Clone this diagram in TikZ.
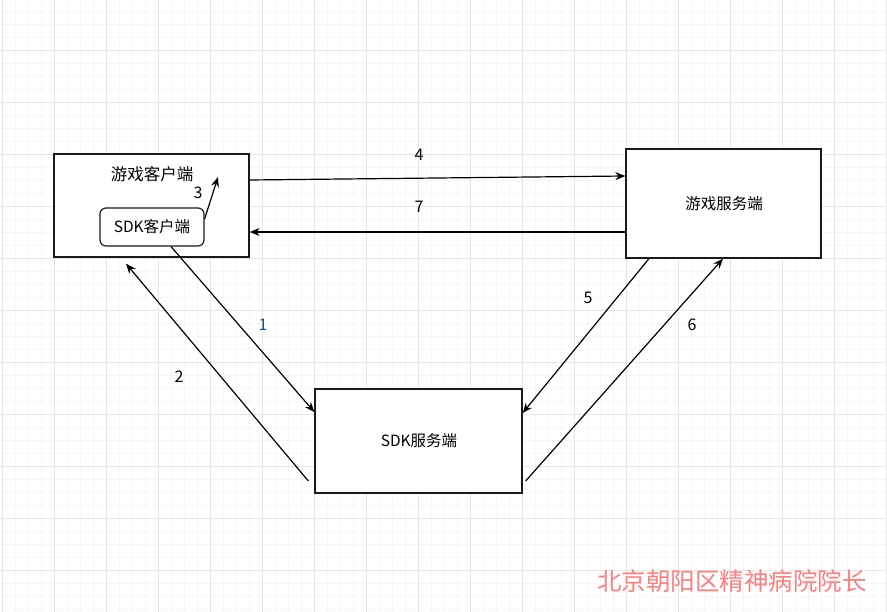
\documentclass[tikz,border=0pt]{standalone}
\usepackage{xcolor}
\usepackage{fontspec}
\setmainfont{Noto Sans CJK SC}
\usepackage{tikz}
\usetikzlibrary{arrows.meta, positioning}
\definecolor{GridMajor}{HTML}{E6E6E6}
\definecolor{GridMinor}{HTML}{F6F6F6}
\definecolor{BoxLine}{HTML}{1A1A1A}
\definecolor{StepBlue}{HTML}{1F4E99}
\definecolor{MarkRed}{HTML}{FF7F7F}

\begin{document}
\begin{tikzpicture}[x=1pt, y=-1pt,
  box/.style={rectangle, draw=BoxLine, line width=1.3pt, fill=white,
    inner sep=0pt},
  inner/.style={rectangle, rounded corners=6pt, draw=BoxLine, line width=1.2pt,
    fill=white, inner sep=0pt, minimum width=104pt, minimum height=38pt,
    font=\fontsize{15.5}{18}\selectfont},
  txt/.style={font=\fontsize{15.5}{18}\selectfont, inner sep=0pt},
  num/.style={font=\fontsize{16}{19}\selectfont, inner sep=0pt},
  line/.style={-{Stealth[length=10pt,width=8pt]}, line width=1.2pt, color=black}
]
\useasboundingbox (0,0) rectangle (887,612);
\fill[white] (0,0) rectangle (887,612);
% grid
\foreach \gx in {0,...,68} \draw[GridMinor, line width=0.8pt] (2.5+13*\gx,0) -- (2.5+13*\gx,612);
\foreach \gy in {0,...,47} \draw[GridMinor, line width=0.8pt] (0,-2+13*\gy) -- (887,-2+13*\gy);
\foreach \gx in {0,...,17} \draw[GridMajor, line width=0.8pt] (2.5+52*\gx,0) -- (2.5+52*\gx,612);
\foreach \gy in {0,...,11} \draw[GridMajor, line width=0.8pt] (0,-2+52*\gy) -- (887,-2+52*\gy);

% boxes
\node[box, minimum width=195pt, minimum height=103pt] (client) at (151.5,205.5) {};
\node[txt, font=\fontsize{16.5}{19}\selectfont] (clienttxt) at (152,174) {游戏客户端};
\node[inner] (sdkc) at (152,227) {SDK客户端};
\node[box, minimum width=195pt, minimum height=109pt] (server) at (723.5,203.5) {};
\node[txt] (servertxt) at (724,204) {游戏服务端};
\node[box, minimum width=207pt, minimum height=104pt] (sdks) at (418.5,441) {};
\node[txt] (sdkstxt) at (419,441) {SDK服务端};
\coordinate (c3) at (218,177);

% connectors
\draw[line] ([xshift=19pt]sdkc.south) -- ([yshift=29pt]sdks.west);
\draw[line] ([xshift=-6pt,yshift=-40pt]sdks.west) -- ([xshift=-25.5pt,yshift=-6pt]client.south);
\draw[line] ([yshift=8pt]sdkc.east) -- (c3);
\draw[line] ([yshift=25.5pt]client.east) -- ([yshift=27.5pt]server.west);
\draw[line] ([xshift=-74.5pt]server.south) -- ([yshift=28pt]sdks.east);
\draw[line] ([xshift=3pt,yshift=-40pt]sdks.east) -- ([xshift=-0.5pt]server.south);
\draw[line] ([yshift=-28.5pt]server.west) -- ([yshift=-26.5pt]client.east);

% step labels
\node[num, text=StepBlue] (n1) at (263,325) {1};
\node[num] (n2) at (179,377) {2};
\node[num] (n3) at (198,193) {3};
\node[num] (n4) at (419,155) {4};
\node[num] (n5) at (588,298) {5};
\node[num] (n6) at (692,325) {6};
\node[num] (n7) at (419,207) {7};

\node[font=\fontsize{24.5}{28}\selectfont, text=MarkRed, inner sep=0pt] (mark) at (732,581) {北京朝阳区精神病院院长};
\end{tikzpicture}
\end{document}
